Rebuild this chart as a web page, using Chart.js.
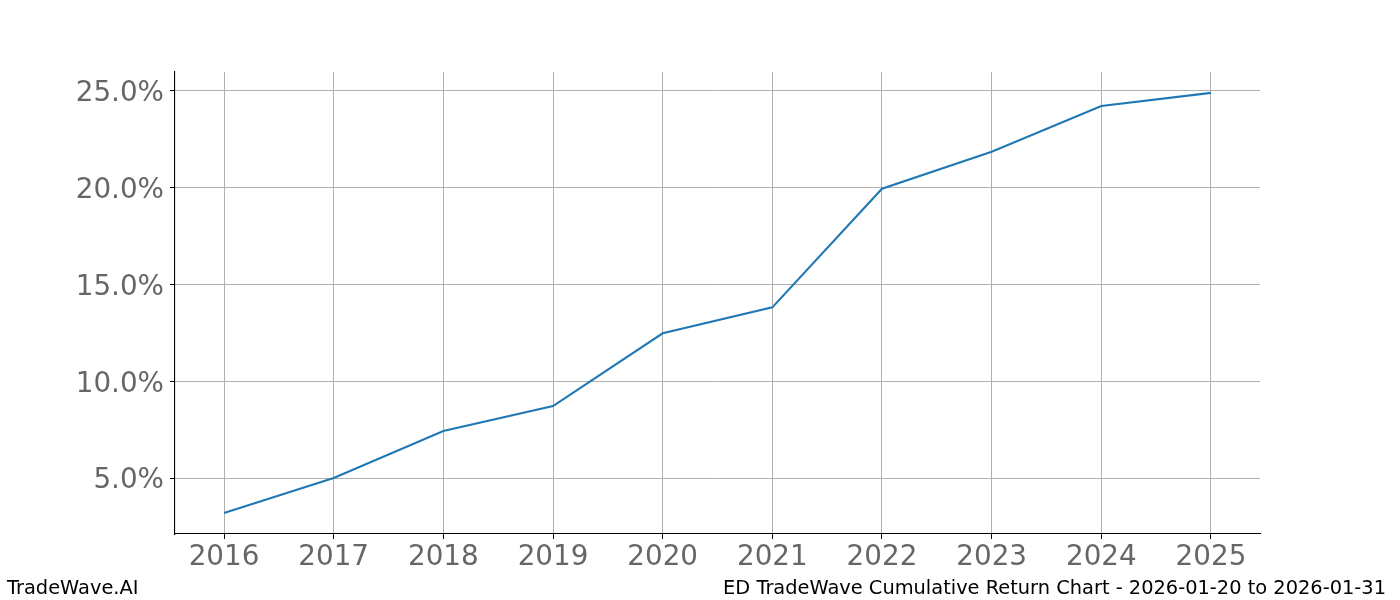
<!DOCTYPE html>
<html>
<head>
<meta charset="utf-8">
<script src="https://cdn.jsdelivr.net/npm/chart.js@4/dist/chart.umd.min.js"></script>
<style>
  html, body { margin: 0; padding: 0; background: #fff; }
  #wrap { position: relative; width: 1400px; height: 600px; }
  .foot {
    position: absolute;
    font-family: "DejaVu Sans", sans-serif;
    font-size: 19.4px;
    color: #000;
    line-height: 1;
    white-space: nowrap;
  }
  #footLeft { left: 7px; top: 578px; }
  #footRight { right: 14px; top: 578px; }
</style>
</head>
<body>
<div id="wrap">
  <canvas id="chart" width="1400" height="600"></canvas>
  <div class="foot" id="footLeft">TradeWave.AI</div>
  <div class="foot" id="footRight">ED TradeWave Cumulative Return Chart - 2026-01-20 to 2026-01-31</div>
</div>
<script>
// values
const years = [2016, 2017, 2018, 2019, 2020, 2021, 2022, 2023, 2024, 2025];
const cumulativeReturn = [3.19, 5.0, 7.43, 8.72, 12.48, 13.82, 19.95, 21.86, 24.22, 24.9];
const yTickValues = [5, 10, 15, 20, 25];
const xTickValues = years;

const tickFont = { family: "DejaVu Sans", size: 27.8, lineHeight: 1 };
const tickColor = "#666666";
const gridColor = "#b0b0b0";

new Chart(document.getElementById("chart"), {
  type: "line",
  data: {
    datasets: [
      {
        data: years.map((y, i) => ({ x: y, y: cumulativeReturn[i] })),
        borderColor: "#1f77b4",
        borderWidth: 2.1,
        pointRadius: 0,
        tension: 0,
        fill: false,
      },
    ],
  },
  options: {
    responsive: false,
    animation: false,
    devicePixelRatio: 1,
    layout: {
      padding: { left: 1, right: 140, top: 72, bottom: 0 },
    },
    plugins: {
      legend: { display: false },
      tooltip: { enabled: false },
    },
    scales: {
      x: {
        type: "linear",
        min: 2015.553,
        max: 2025.447,
        afterBuildTicks: axis => {
          axis.ticks = xTickValues.map(v => ({ value: v }));
        },
        afterFit: axis => {
          axis.height = 66;
        },
        grid: {
          color: gridColor,
          lineWidth: 1,
          tickLength: 5,
          tickColor: "#000",
          tickWidth: 1,
        },
        border: { display: true, color: "#000", width: 1.1 },
        ticks: {
          font: tickFont,
          color: tickColor,
          padding: 5,
          maxRotation: 0,
          autoSkip: false,
          callback: v => String(v),
        },
      },
      y: {
        type: "linear",
        min: 2.11,
        max: 25.98,
        afterBuildTicks: axis => {
          axis.ticks = yTickValues.map(v => ({ value: v }));
        },
        afterFit: axis => {
          axis.width = 174;
        },
        grid: {
          color: gridColor,
          lineWidth: 1,
          tickLength: 5,
          tickColor: "#000",
          tickWidth: 1,
        },
        border: { display: true, color: "#000", width: 1.1 },
        ticks: {
          font: tickFont,
          color: tickColor,
          padding: 6,
          labelOffset: 3,
          autoSkip: false,
          callback: v => v.toFixed(1) + "%",
        },
      },
    },
  },
});
</script>
</body>
</html>
